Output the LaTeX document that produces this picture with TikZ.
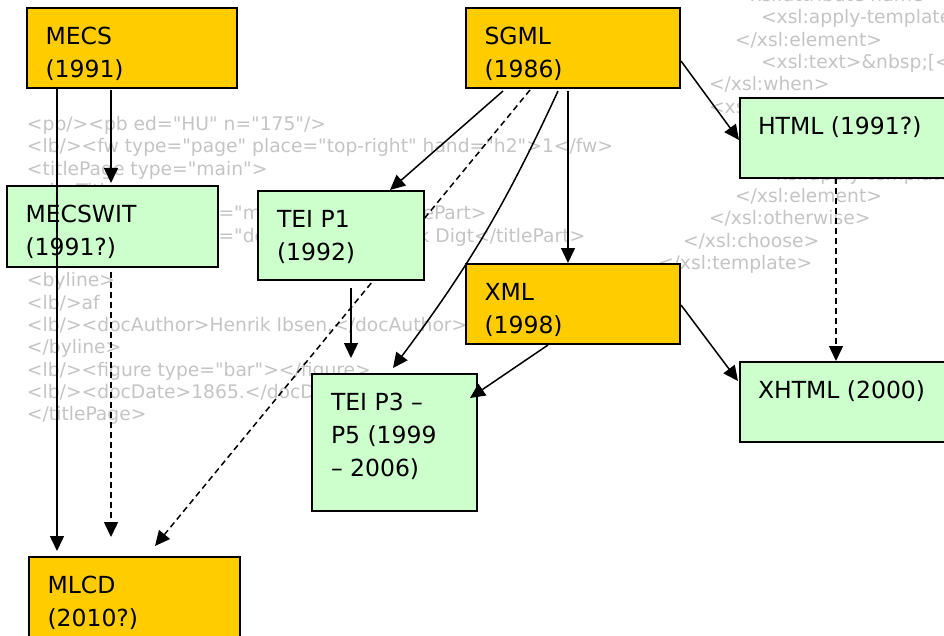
\documentclass[tikz,border=0pt]{standalone}
\usepackage{fontspec}
\setmainfont{DejaVu Sans}
\newfontfamily\codefont{DejaVu Sans}
\usetikzlibrary{arrows.meta,calc,backgrounds}
\definecolor{orangebox}{RGB}{255,204,0}
\definecolor{greenbox}{RGB}{204,255,204}
\definecolor{bggrey}{RGB}{196,196,196}
\begin{document}
\begin{tikzpicture}[x=1pt,y=-1pt,
  boxbase/.style={draw=black, line width=1.6pt, anchor=north west, inner sep=0pt, outer sep=0pt},
  obox/.style={boxbase, fill=orangebox},
  gbox/.style={boxbase, fill=greenbox},
  btext/.style={anchor=north west, inner sep=0pt, outer sep=0pt, align=left, font=\fontsize{23.5}{33}\selectfont},
  bgtext/.style={anchor=base west, inner sep=0pt, outer sep=0pt, text=bggrey, font=\codefont\fontsize{18.7}{22}\selectfont},
  arr/.style={line width=1.5pt, -{Triangle[length=15pt,width=14pt]}},
  darr/.style={arr, dash pattern=on 6pt off 4pt}
]
\useasboundingbox (0,0) rectangle (944,636);
\begin{scope}
\clip (0,0) rectangle (944,636);
% boxes
\node[obox, minimum width=210pt, minimum height=80pt] (mecs) at (27,8) {};
\node[obox, minimum width=214pt, minimum height=80pt] (sgml) at (466,8) {};
\node[gbox, minimum width=211pt, minimum height=81pt] (mecswit) at (7,186) {};
\node[gbox, minimum width=166pt, minimum height=89pt] (teip1) at (258,191) {};
\node[obox, minimum width=214pt, minimum height=80pt] (xml) at (466,264) {};
\node[gbox, minimum width=206pt, minimum height=80pt] (html) at (740,98) {};
\node[gbox, minimum width=206pt, minimum height=80pt] (xhtml) at (740,362) {};
\node[gbox, minimum width=165pt, minimum height=137pt] (teip3) at (312,374) {};
\node[obox, minimum width=211pt, minimum height=90pt] (mlcd) at (29,557) {};
% box texts
\node[btext] (mecs-t) at ($(mecs.north west)+(18.5,13.5)$) {\strut MECS\\(1991)};
\node[btext] (sgml-t) at ($(sgml.north west)+(18.5,13.5)$) {\strut SGML\\(1986)};
\node[btext] (mecswit-t) at ($(mecswit.north west)+(18.5,13)$) {\strut MECSWIT\\(1991?)};
\node[btext] (teip1-t) at ($(teip1.north west)+(19,13)$) {\strut TEI P1\\(1992)};
\node[btext] (xml-t) at ($(xml.north west)+(18.5,13.5)$) {\strut XML\\(1998)};
\node[btext] (html-t) at ($(html.north west)+(18,13.5)$) {\strut HTML (1991?)};
\node[btext] (xhtml-t) at ($(xhtml.north west)+(18,13.5)$) {\strut XHTML (2000)};
\node[btext] (teip3-t) at ($(teip3.north west)+(19,13.5)$) {\strut TEI P3 \textendash\\P5 (1999\\\textendash{} 2006)};
\node[btext] (mlcd-t) at ($(mlcd.north west)+(18.5,13)$) {\strut MLCD\\(2010?)};
% connectors
\draw[arr] ($(mecs.south west)+(30,0)$) -- ($(mlcd.north west)+(28,-6)$);
\draw[arr] ($(mecs.south west)+(84,2)$) -- ($(mecswit.north west)+(104,-3)$);
\draw[darr] ($(mecswit.south west)+(104,5)$) -- ($(mlcd.north west)+(82,-20)$);
\draw[arr] ($(sgml.south west)+(37,3)$) -- ($(teip1.north west)+(132,-1)$);
\draw[arr] ($(sgml.south west)+(92,3)$) to[bend left=6] ($(teip3.north west)+(81,-6)$);
\draw[arr] ($(sgml.south west)+(102,3)$) -- ($(xml.north west)+(102,-1)$);
\draw[arr] ($(sgml.north east)+(1,53)$) -- ($(html.north west)+(-1,42)$);
\draw[arr] ($(teip1.south west)+(93,8)$) -- ($(teip3.north west)+(39,-16)$);
\draw[arr] ($(xml.south west)+(82,1)$) -- ($(teip3.north east)+(-7,24)$);
\draw[arr] ($(xml.north east)+(1,41)$) -- ($(xhtml.north west)+(-2,19)$);
\draw[darr] ($(html.south west)+(96,0)$) -- ($(xhtml.north west)+(96,-1)$);
\begin{scope}[on background layer]
\clip (0,0) rectangle (944,636);
% left code block
\node[bgtext] (l0) at (27,130.5) {<pb/><pb ed="HU" n="175"/>};
\node[bgtext] (l1) at (27,152.8) {<lb/><fw type="page" place="top-right" hand="h2">1</fw>};
\node[bgtext] (l2) at (27,175.1) {<titlePage type="main">};
\node[bgtext] (l3) at (27,197.5) {<docTitle>};
\node[bgtext] (l4) at (27,219.8) {<lb/><titlePart type="main">Brand.</titlePart>};
\node[bgtext] (l5) at (27,242.1) {<lb/><titlePart type="desc">Et dramatisk Digt</titlePart>};
\node[bgtext] (l7) at (27,286.8) {<byline>};
\node[bgtext] (l8) at (27,309.1) {<lb/>af};
\node[bgtext] (l9) at (27,331.4) {<lb/><docAuthor>Henrik Ibsen.</docAuthor>};
\node[bgtext] (l10) at (27,353.7) {</byline>};
\node[bgtext] (l11) at (27,376.1) {<lb/><figure type="bar"></figure>};
\node[bgtext] (l12) at (27,398.4) {<lb/><docDate>1865.</docDate>};
\node[bgtext] (l13) at (27,420.7) {</titlePage>};
% right code block
\node[bgtext] (r0) at (735,1.5) {<xsl:attribute name="class">};
\node[bgtext] (r1) at (761,23.8) {<xsl:apply-templates/>};
\node[bgtext] (r2) at (735,46.2) {</xsl:element>};
\node[bgtext] (r3) at (761,68.5) {<xsl:text>\&nbsp;[</xsl:text>};
\node[bgtext] (r4) at (709,90.8) {</xsl:when>};
\node[bgtext] (r5) at (709,113.2) {<xsl:otherwise>};
\node[bgtext] (r8) at (761,180.2) {<xsl:apply-templates/>};
\node[bgtext] (r9) at (735,202.5) {</xsl:element>};
\node[bgtext] (r10) at (709,224.8) {</xsl:otherwise>};
\node[bgtext] (r11) at (683,247.2) {</xsl:choose>};
\node[bgtext] (r12) at (658,269.5) {</xsl:template>};
% dashed connector running under the TEI P1 box
\draw[darr] ($(sgml.south west)+(64,2)$) -- ($(mlcd.north west)+(126,-11)$);
\end{scope}
\end{scope}
\end{tikzpicture}
\end{document}
